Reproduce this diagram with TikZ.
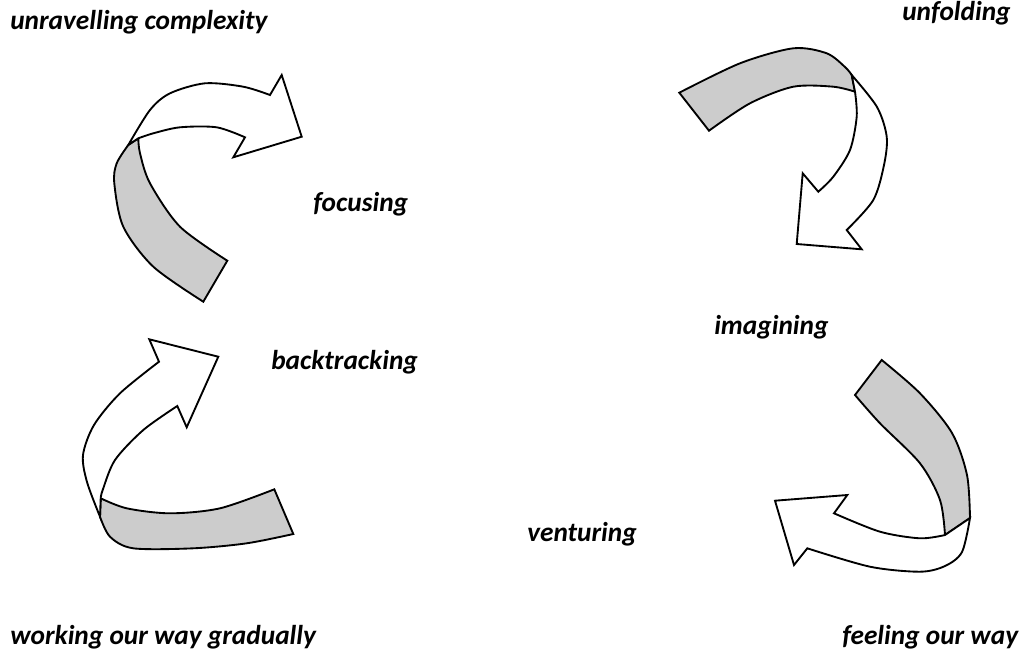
\documentclass[tikz,border=0pt]{standalone}
\usepackage{fontspec}
\setmainfont{Carlito}

\begin{document}
\begin{tikzpicture}[x=0.75pt,y=-0.75pt,
  lbl/.style={anchor=base west,inner sep=0pt,font=\bfseries\itshape\fontsize{20.5}{24}\selectfont},
  back/.style={draw,line width=1.4pt,fill=black!20},
  front/.style={draw,line width=1.4pt,fill=white}]
\useasboundingbox (0,0) rectangle (1021,651);

\draw[back] plot[smooth] coordinates {(128.3,145) (116.7,163.3) (114.3,183.3) (123.3,226.7) (153.3,266.7) (203.3,301.7)}
  -- plot[smooth] coordinates {(227.3,260.7) (180,226.7) (150,183.3) (140,153.3) (138.3,138.3)} -- cycle;
\draw[front] plot[smooth] coordinates {(128.3,145) (150,110) (170,93.3) (205,83.3) (243.3,86.7) (270,95)}
  -- (281.7,75) -- (301.7,136.7) -- (233.3,157.3)
  -- plot[smooth] coordinates {(245,137.3) (216.7,127.3) (180,127.3) (153.3,133.3) (138.3,138.3)} -- cycle;

\draw[back] plot[smooth] coordinates {(679.3,92.7) (740,63.3) (793.3,48.3) (826.7,53.3) (845,67) (851.7,75)}
  -- plot[smooth] coordinates {(855,91.7) (833.3,86.7) (793.3,86.7) (750,103.3) (709,130.7)} -- cycle;
\draw[front] plot[smooth] coordinates {(851.7,75) (877,107) (886.7,136.7) (884,165) (873.3,200) (846.7,230)}
  -- (861.7,249.3) -- (796.7,244) -- (802.7,173.3)
  -- plot[smooth] coordinates {(818.3,191.7) (833.3,176.7) (850,150) (856.7,116.7) (855,91.7)} -- cycle;

\draw[back] plot[smooth] coordinates {(100.7,498.3) (126.7,508.3) (170,513.3) (220,508.3) (274.3,489.3)}
  -- plot[smooth] coordinates {(293.3,534) (246.7,543.3) (193.3,548.3) (133.3,548.3) (110,536.7) (100,516.7)} -- cycle;
\draw[front] plot[smooth] coordinates {(100,516.7) (87,482) (83,455) (94,425) (120,393.3) (159,361.7)}
  -- (149.3,339.3) -- (218.3,356.7) -- (186.7,427.3)
  -- plot[smooth] coordinates {(177.3,406) (143.3,430) (115,460) (102.7,490) (100.7,498.3)} -- cycle;

\draw[back] plot[smooth] coordinates {(881.7,360) (920,393.3) (952,433) (967,475) (970,518)}
  -- plot[smooth] coordinates {(945,535) (940,500) (920,463.3) (880,423.3) (855,395)} -- cycle;
\draw[front] plot[smooth] coordinates {(970,518) (962,552) (945,566) (920,571.7) (870,566.7) (807.3,548.3)}
  -- (794,565) -- (775,500.7) -- (847.3,495)
  -- plot[smooth] coordinates {(834,513.3) (880,531.7) (920,538.3) (945,535)} -- cycle;

\node[lbl] (unravel) at (10,29) {unravelling complexity};
\node[lbl] (unfold) at (902,20) {unfolding};
\node[lbl] (focus) at (313,211) {focusing};
\node[lbl] (imagine) at (714,334) {imagining};
\node[lbl] (backtrack) at (271,369) {backtracking};
\node[lbl] (venture) at (527,541) {venturing};
\node[lbl] (gradual) at (10,644) {working our way gradually};
\node[lbl] (feel) at (842,644) {feeling our way};
\end{tikzpicture}
\end{document}
